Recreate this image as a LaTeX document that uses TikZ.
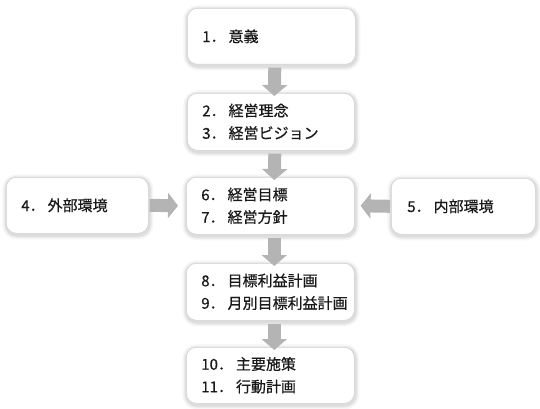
\documentclass[tikz,border=0pt]{standalone}
\usepackage{fontspec}
\setmainfont{Noto Sans CJK JP}[FakeBold=0.6]
\usetikzlibrary{arrows.meta}
\definecolor{arrowgray}{HTML}{B4B4B4}
\definecolor{boxline}{HTML}{D2D2D2}
\newcommand{\itm}[2]{\mbox{#1．\kern3pt #2}}
\begin{document}
\begin{tikzpicture}[x=1pt,y=-1pt,
  box/.style={rectangle, rounded corners=10pt, fill=white, draw=boxline, line width=0.6pt,
    anchor=north west, align=left, inner xsep=15pt, inner ysep=0pt,
    font=\fontsize{15}{22.5}\selectfont, text=black!90,
    preaction={draw=black, draw opacity=0.035, line width=9pt, transform canvas={xshift=0.5pt,yshift=-1.5pt}},
    preaction={draw=black, draw opacity=0.045, line width=6pt, transform canvas={xshift=0.5pt,yshift=-1.5pt}},
    preaction={draw=black, draw opacity=0.06, line width=3.5pt, transform canvas={xshift=0.5pt,yshift=-1.5pt}}},
  fatv/.style={draw=arrowgray, line width=13pt, -{Triangle[width=25pt,length=11pt,fill=arrowgray]}},
  fath/.style={draw=arrowgray, line width=13pt, -{Triangle[width=25pt,length=10pt,fill=arrowgray]}}]
\useasboundingbox (0,0) rectangle (540,409);
\node[box, minimum width=168pt, minimum height=56pt, text width=138pt] (b1) at (187,8) {\itm{1}{意義}};
\node[box, minimum width=167pt, minimum height=57pt, text width=137pt] (b2) at (187,93) {\itm{2}{経営理念}\\\itm{3}{経営ビジョン}};
\node[box, minimum width=168pt, minimum height=57pt, text width=138pt] (b3) at (186,177) {\itm{6}{経営目標}\\\itm{7}{経営方針}};
\node[box, minimum width=142pt, minimum height=56pt, text width=112pt, inner xsep=15pt] (b4) at (6,177) {\itm{4}{外部環境}};
\node[box, minimum width=144pt, minimum height=56pt, text width=112pt, inner xsep=16pt] (b5) at (391,178) {\itm{5}{内部環境}};
\node[box, minimum width=168pt, minimum height=57pt, text width=138pt] (b6) at (186,263) {\itm{8}{目標利益計画}\\\itm{9}{月別目標利益計画}};
\node[box, minimum width=168pt, minimum height=56pt, text width=138pt] (b7) at (186,347) {\itm{10}{主要施策}\\\itm{11}{行動計画}};
\draw[fatv] ([xshift=3.5pt,yshift=-3pt]b1.south) -- ([xshift=3.5pt,yshift=-3pt]b2.north);
\draw[fatv] ([xshift=4pt,yshift=-3pt]b2.south) -- ([xshift=4pt,yshift=-3pt]b3.north);
\draw[fatv] ([xshift=4pt,yshift=-3pt]b3.south) -- ([xshift=4pt,yshift=-3pt]b6.north);
\draw[fatv] ([xshift=4pt,yshift=-3pt]b6.south) -- ([xshift=4pt,yshift=-3pt]b7.north);
\draw[fath] ([xshift=1pt]b4.east) -- ([xshift=-8pt]b3.west);
\draw[fath] ([xshift=-1pt]b5.west) -- ([xshift=6pt]b3.east);
\end{tikzpicture}
\end{document}
